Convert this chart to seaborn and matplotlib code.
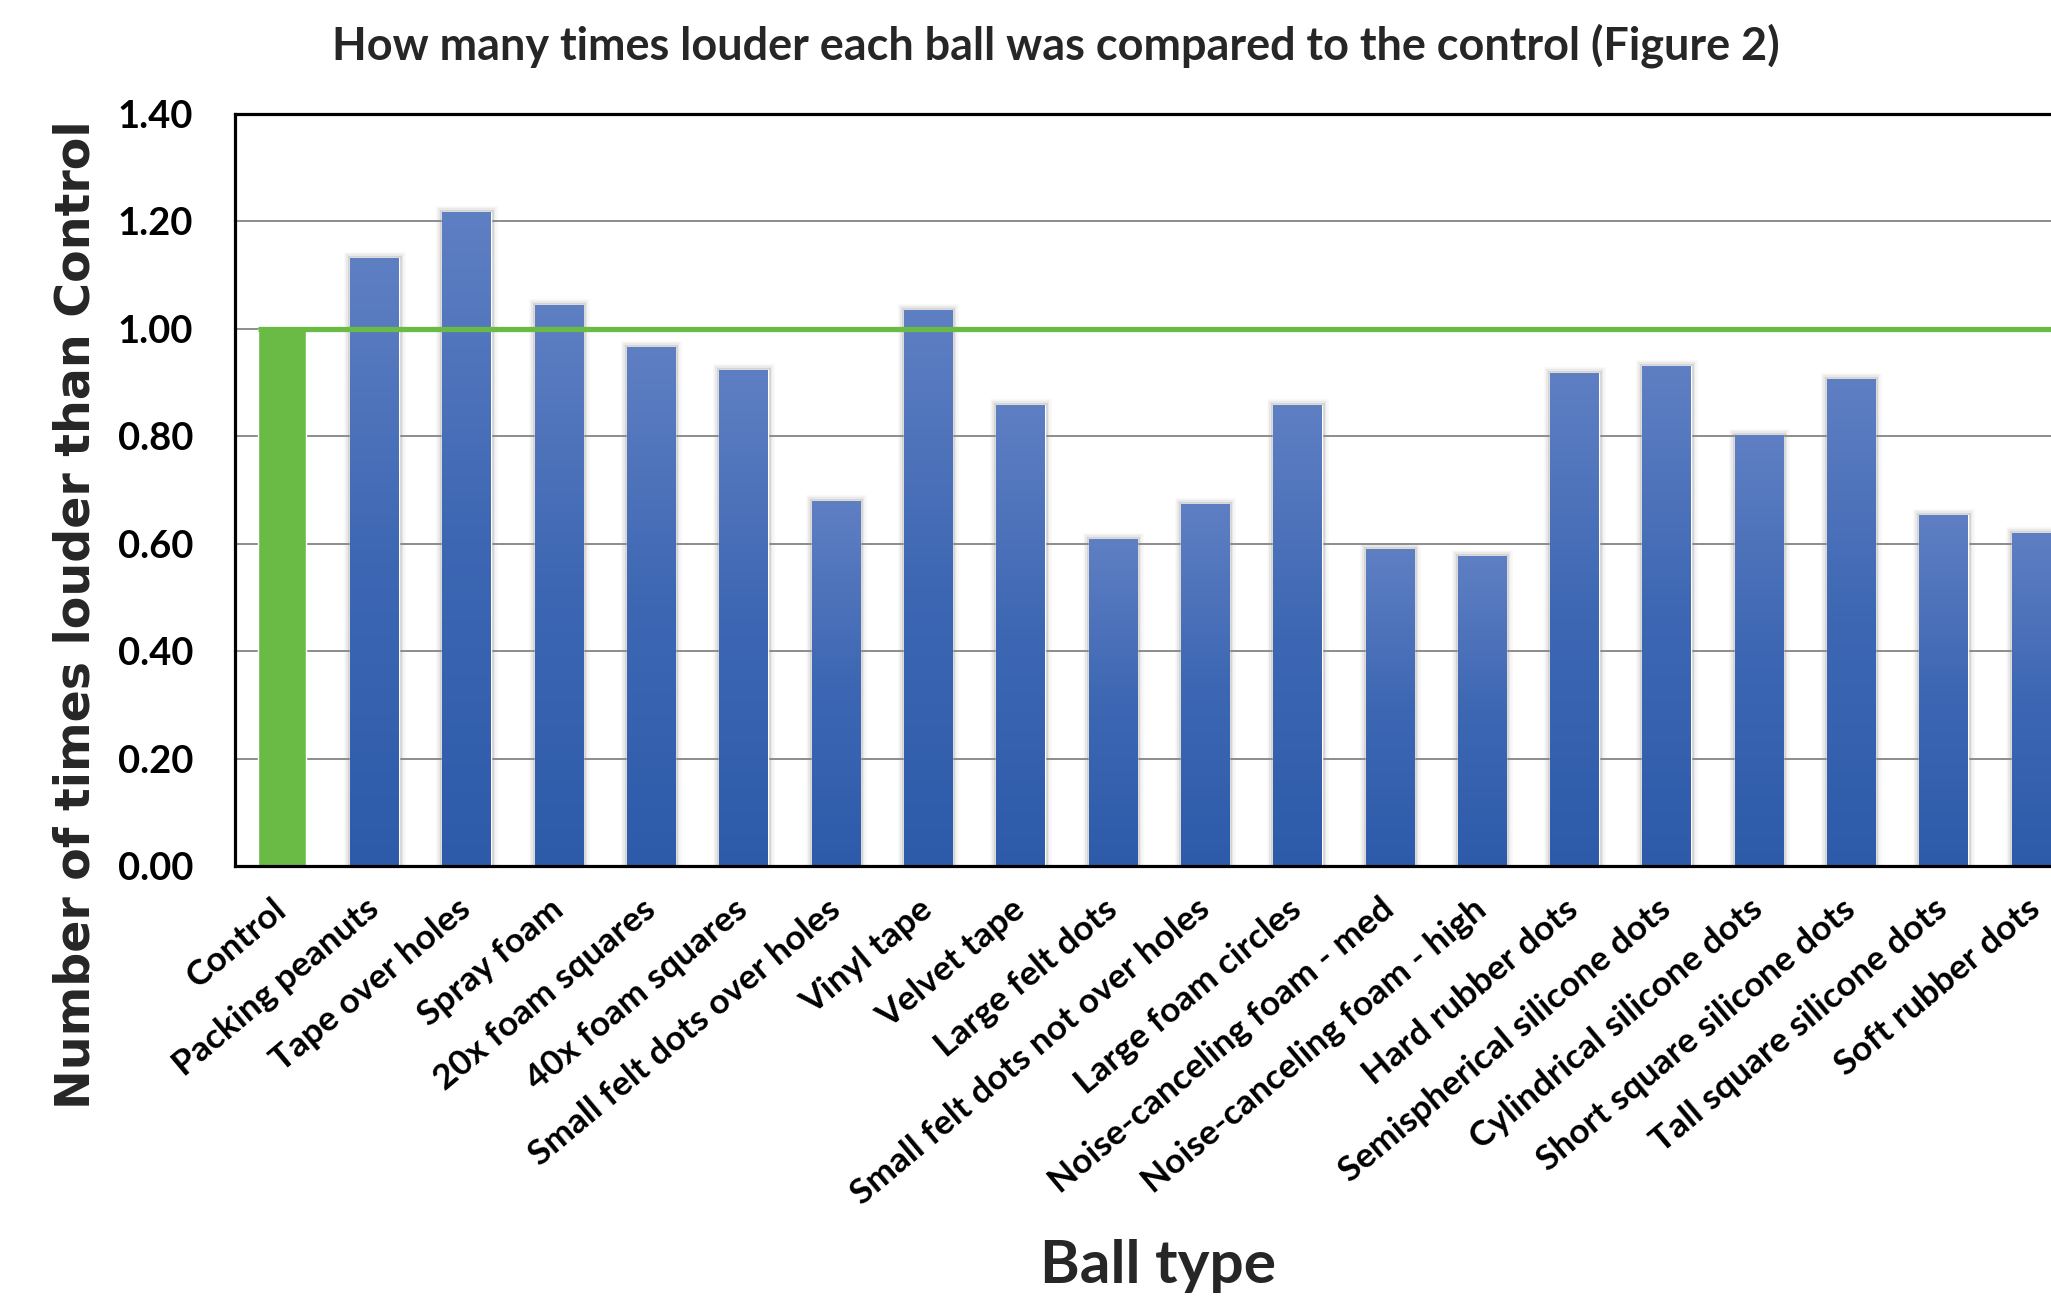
import numpy as np
import pandas as pd
import matplotlib
matplotlib.use("Agg")
import matplotlib.pyplot as plt
import seaborn as sns
from matplotlib import patheffects as pe
from matplotlib import font_manager as fm
from matplotlib.colors import LinearSegmentedColormap
from matplotlib.textpath import TextPath
from matplotlib.font_manager import FontProperties

# ---- data -------------------------------------------------------------
ball_types = [
    "Control", "Packing peanuts", "Tape over holes", "Spray foam",
    "20x foam squares", "40x foam squares", "Small felt dots over holes",
    "Vinyl tape", "Velvet tape", "Large felt dots",
    "Small felt dots not over holes", "Large foam circles",
    "Noise-canceling foam - med", "Noise-canceling foam - high",
    "Hard rubber dots", "Semispherical silicone dots",
    "Cylindrical silicone dots", "Short square silicone dots",
    "Tall square silicone dots", "Soft rubber dots",
]
times_louder = [
    1.00, 1.131, 1.218, 1.044, 0.967, 0.924, 0.679, 1.036, 0.858, 0.608,
    0.674, 0.858, 0.590, 0.577, 0.917, 0.930, 0.803, 0.907, 0.654, 0.620,
]
y_ticks = [0.0, 0.2, 0.4, 0.6, 0.8, 1.0, 1.2, 1.4]
title_text = "How many times louder each ball was compared to the control (Figure 2)"
y_label = "Number of times louder than Control"
x_label = "Ball type"

# ---- style ------------------------------------------------------------
sns.set_theme(style="white")
available = {f.name for f in fm.fontManager.ttflist}
text_font = "Lato" if "Lato" in available else "DejaVu Sans"
plt.rcParams["font.family"] = [text_font, "DejaVu Sans"]

W, H, DPI = 2051, 1307, 100


def fit_size(s, target_px, prop):
    """Font size (pt) at which string s is target_px wide."""
    w = TextPath((0, 0), s, size=100, prop=prop).get_extents().width
    return 100 * (target_px * 72 / DPI) / w


bold_txt = FontProperties(family=text_font, weight="bold")
bold_wide = FontProperties(family="DejaVu Sans", weight="bold")

fig = plt.figure(figsize=(W / DPI, H / DPI), dpi=DPI)
fig.patch.set_facecolor("white")

# plot area in pixels (the right edge runs past the figure border)
ax_l, ax_t, ax_b, ax_r = 235, 114, 866, 2082
ax = fig.add_axes([ax_l / W, 1 - ax_b / H, (ax_r - ax_l) / W, (ax_b - ax_t) / H])

df = pd.DataFrame({"ball": ball_types, "ratio": times_louder})
bar_colors = ["#6ABB46"] + ["#3E68B2"] * (len(ball_types) - 1)
sns.barplot(data=df, x="ball", y="ratio", hue="ball", palette=bar_colors,
            saturation=1, width=0.524, legend=False, ax=ax, zorder=3)

# vertical gradient fill + soft blurred shadow around the blue bars
grad = np.linspace(0, 1, 256).reshape(-1, 1)
cmap = LinearSegmentedColormap.from_list("bar", ["#2D5BAA", "#3D67B3", "#5F7FC3"])
shadow = [
    pe.Stroke(linewidth=9, foreground="#9A9A9A", alpha=0.08),
    pe.Stroke(linewidth=6, foreground="#8A8A8A", alpha=0.12),
    pe.Stroke(linewidth=3.5, foreground="#7A7A7A", alpha=0.2),
    pe.Normal(),
]
for p in ax.patches[1:]:
    p.set_path_effects(shadow)
    x0, y0, w, h = p.get_x(), p.get_y(), p.get_width(), p.get_height()
    im = ax.imshow(grad, cmap=cmap, origin="lower", aspect="auto",
                   extent=[x0, x0 + w, y0, y0 + h], zorder=3.5)
    im.set_clip_path(p)

n = len(ball_types)
ax.set_xlim(-0.51, n - 0.5)
ax.set_ylim(0, 1.4)

# control reference line
ctrl = ax.patches[0]
ax.hlines(times_louder[0], ctrl.get_x(), n - 0.5, color="#6ABB46", linewidth=3.8, zorder=5)

# grid and frame
ax.set_axisbelow(True)
ax.yaxis.grid(True, color="#8C8C8C", linewidth=1.4)
ax.xaxis.grid(False)
for side in ["left", "top", "bottom"]:
    ax.spines[side].set_visible(True)
    ax.spines[side].set_color("black")
    ax.spines[side].set_linewidth(2.3)
    ax.spines[side].set_zorder(6)
ax.spines["right"].set_visible(False)

ax.set_xlabel("")
ax.set_ylabel("")

# y ticks
ax.set_yticks(y_ticks)
ytick_size = fit_size("1.40", 72, bold_txt)
ax.set_yticklabels([f"{v:.2f}" for v in y_ticks], fontsize=ytick_size,
                   fontweight="bold", color="black")
ax.tick_params(axis="y", length=0, pad=30)

# x ticks
xtick_size = fit_size("Small felt dots not over holes", 455, bold_txt)
ax.set_xticks(range(n))
ax.set_xticklabels(ball_types, rotation=40, ha="right", va="center",
                   rotation_mode="anchor", fontsize=xtick_size,
                   fontweight="bold", color="black")
ax.tick_params(axis="x", length=0, pad=28)

# titles
fig.text(1056 / W, 1 - 46 / H, title_text, ha="center", va="center",
         fontsize=fit_size(title_text, 1446, bold_txt), fontweight="bold")
fig.text(76 / W, 1 - 615 / H, y_label, ha="center", va="center", rotation=90,
         fontsize=fit_size(y_label, 981, bold_wide), fontweight="bold",
         family="DejaVu Sans")
fig.text(1158 / W, 1 - 1266 / H, x_label, ha="center", va="center",
         fontsize=fit_size(x_label, 229, bold_txt), fontweight="bold")

fig.savefig("out.png", dpi=DPI, facecolor="white")
